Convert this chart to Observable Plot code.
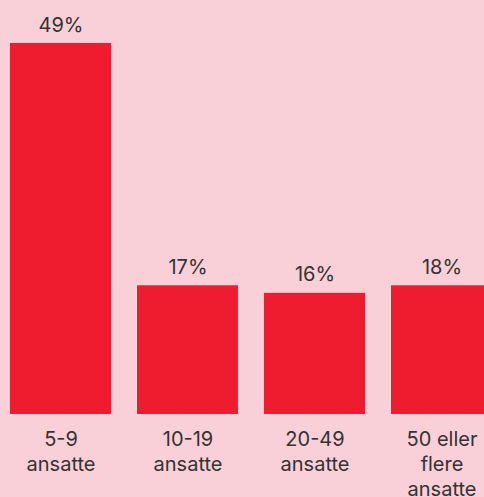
<!DOCTYPE html>
<html>
<head>
<meta charset="utf-8">
<script src="https://cdn.jsdelivr.net/npm/d3@7"></script>
<script src="https://cdn.jsdelivr.net/npm/@observablehq/plot@0.6"></script>
<style>
  html, body { margin: 0; padding: 0; background: #f9d0d7; overflow: hidden; }
  #chart { width: 484px; height: 497px; overflow: hidden; }
</style>
</head>
<body>
<div id="chart"></div>
<script>
const categories = ["5-9 ansatte", "10-19 ansatte", "20-49 ansatte", "50 eller flere ansatte"];
const tickLabels = ["5-9\nansatte", "10-19\nansatte", "20-49\nansatte", "50 eller\nflere\nansatte"];
const values = [49, 17, 16, 17];
const valueLabels = ["49%", "17%", "16%", "18%"];

const data = categories.map((c, i) => ({cat: c, value: values[i], label: valueLabels[i], tick: tickLabels[i]}));

const chart = Plot.plot({
  width: 484,
  height: 497,
  marginTop: 43,
  marginBottom: 83,
  marginLeft: 0,
  marginRight: 0,
  style: {background: "#f9d0d7", color: "#333333", fontFamily: "Inter, 'Noto Sans', sans-serif", overflow: "hidden"},
  x: {domain: categories, range: [10, 492], paddingInner: 0.205, paddingOuter: 0, axis: null},
  y: {domain: [0, 49], axis: null},
  marks: [
    Plot.barY(data, {x: "cat", y: "value", fill: "#ee1c2e"}),
    Plot.text(data, {x: "cat", y: "value", text: "label", lineAnchor: "bottom", dy: -12, fontSize: 20, fill: "#333333"}),
    Plot.text(data, {x: "cat", text: "tick", frameAnchor: "bottom", lineAnchor: "top", dy: 14, fontSize: 20, lineHeight: 1.25, fill: "#333333"})
  ]
});
document.getElementById("chart").appendChild(chart);
</script>
</body>
</html>
